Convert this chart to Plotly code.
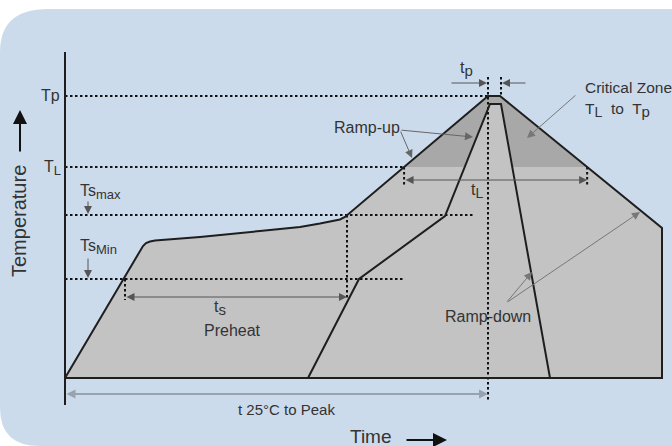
import numpy as np
import plotly.graph_objects as go

# ---------------- data (schematic units: time from start, temperature above 25 °C base) ----------
level_names = ["Tp", "TL", "Ts_max", "Ts_min"]
T_P = 282
T_L = 211
TS_MAX = 163
TS_MIN = 99

# outer (component body) reflow profile
outer_t = [0, 78, 81, 85, 90, 135, 195, 235, 255, 275, 280, 423, 435, 597, 597]
outer_T = [0, 132, 135, 136.5, 137.5, 141, 147, 151, 154.5, 158.5, 161, 282, 282, 150, 0]

# inner (fast) profile
inner_t = [243, 294, 380, 425, 436, 485]
inner_T = [0, 99, 162, 274, 274, 0]

# time markers
t_ts_start = 60      # profile crosses Ts_min
t_ts_end = 282       # end of preheat
t_peak = 423         # start of peak
t_peak_end = 436     # end of tp

FONT = "Liberation Sans, Arial, Helvetica, sans-serif"
TXT = "#333333"
BLUE = "#CCDBEC"
LIGHT = "#C3C3C3"
DARK = "#A8A8A8"
EDGE = "#1e1e1e"

W, H = 672, 446
X0, Y0 = 65, 378  # pixel position of data origin (figure layout only)

fig = go.Figure()

# ---- background rounded panel (paper coordinates) ----
def px(x):
    return x / W

def py(y):
    return 1 - y / H

bg_path = (f"M 0,{py(52)} Q 0,{py(9)} {px(48)},{py(9)} L 1,{py(9)} L 1,0 "
           f"L {px(40)},0 Q 0,0 0,{py(408)} Z")
shapes = [dict(type="path", xref="paper", yref="paper", path=bg_path,
               fillcolor=BLUE, line=dict(width=0), layer="below")]

# ---- fills ----
fig.add_trace(go.Scatter(x=outer_t, y=outer_T, mode="lines", fill="toself",
                         fillcolor=LIGHT, line=dict(width=0), hoverinfo="skip"))

# critical zone: part of outer profile above T_L
ot = np.array(outer_t, float)
oT = np.array(outer_T, float)
i_peak = int(np.argmax(oT))
rise_t, rise_T = ot[:i_peak + 1], oT[:i_peak + 1]
fall_t, fall_T = ot[i_peak + 1:], oT[i_peak + 1:]
tL_left = float(np.interp(T_L, rise_T, rise_t))
tL_right = float(np.interp(T_L, fall_T[::-1], fall_t[::-1]))
cz_t = [tL_left] + [t for t, T in zip(ot, oT) if T > T_L] + [tL_right]
cz_T = [T_L] + [T for T in oT if T > T_L] + [T_L]
fig.add_trace(go.Scatter(x=cz_t, y=cz_T, mode="lines", fill="toself",
                         fillcolor=DARK, line=dict(width=0), hoverinfo="skip"))

fig.add_trace(go.Scatter(x=inner_t, y=inner_T, mode="lines", fill="toself",
                         fillcolor=LIGHT, line=dict(width=0), hoverinfo="skip"))

# ---- dotted reference lines ----
DOT = "2.5px,2.5px"
dotted = [
    ([0, t_peak], [T_P, T_P]),
    ([0, tL_left], [T_L, T_L]),
    ([0, 408], [TS_MAX, TS_MAX]),
    ([0, 340], [TS_MIN, TS_MIN]),
    ([t_peak, t_peak], [301, -22]),
    ([t_peak_end, t_peak_end], [301, T_P]),
    ([t_ts_end, t_ts_end], [TS_MAX, 80]),
    ([t_ts_start, t_ts_start], [TS_MIN, 78]),
    ([tL_left, tL_left], [T_L, 193]),
    ([tL_right, tL_right], [T_L, 193]),
]
for xs, ys in dotted:
    fig.add_trace(go.Scatter(x=xs, y=ys, mode="lines",
                             line=dict(color="#111111", width=2, dash=DOT),
                             hoverinfo="skip"))

# ---- profile outlines ----
fig.add_trace(go.Scatter(x=outer_t + [0], y=outer_T + [0], mode="lines",
                         line=dict(color=EDGE, width=2), hoverinfo="skip"))
fig.add_trace(go.Scatter(x=inner_t, y=inner_T, mode="lines",
                         line=dict(color=EDGE, width=2), hoverinfo="skip"))
# temperature axis
fig.add_trace(go.Scatter(x=[0, 0], y=[-27, 326], mode="lines",
                         line=dict(color=EDGE, width=2), hoverinfo="skip"))

# ---- arrows ----
ann = []

def arrow(x0, y0, x1, y1, color="#555555", width=1, size=1.0, both=False, head=2):
    d = dict(x=x1, y=y1, ax=x0, ay=y0, xref="x", yref="y", axref="x", ayref="y",
             text="", showarrow=True, arrowhead=head, arrowsize=size,
             arrowwidth=width, arrowcolor=color, standoff=0, startstandoff=0)
    if both:
        d.update(arrowside="end+start", startarrowhead=head, startarrowsize=size)
    ann.append(d)

arrow(t_ts_start, 81, t_ts_end, 81, color="#555555", width=1, size=1.6, both=True)
arrow(tL_left, 198, tL_right, 198, color="#555555", width=1, size=1.6, both=True)
arrow(0, -16, t_peak, -16, color="#9aa3ad", width=2, size=0.9, both=True)
arrow(385, 295, t_peak - 1, 295, color="#555555", width=1, size=1.6)
arrow(462, 295, t_peak_end + 1, 295, color="#555555", width=1, size=1.6)
arrow(23, 178, 23, TS_MAX + 1, color="#555555", width=1, size=1.6)
arrow(23, 121, 23, TS_MIN + 1, color="#555555", width=1, size=1.6)
# Ramp-up callouts
arrow(335, 248, 408, 241, color="#666666", width=1, size=1.6)
arrow(335, 248, 347, 220, color="#666666", width=1, size=1.6)
# Critical zone callout
arrow(512, 284, 462, 240, color="#777777", width=1, size=1.6)
# Ramp-down callouts
arrow(441, 75, 467, 106, color="#777777", width=1, size=1.6)
arrow(441, 75, 575, 166, color="#777777", width=1, size=1.6)
# axis direction arrows
arrow(-45, 225, -45, 268, color="#111111", width=2, size=1.4)
arrow(340, -62, 382, -62, color="#111111", width=2, size=1.4)

# ---- labels ----
def label(x, y, text, size=16, xanchor="center", yanchor="middle", angle=0):
    ann.append(dict(x=x, y=y, xref="x", yref="y", text=text, showarrow=False,
                    xanchor=xanchor, yanchor=yanchor, textangle=angle,
                    font=dict(family=FONT, size=size, color=TXT)))

def sub(s, size=14):
    return f"<sub><span style='font-size:{size}px'>{s}</span></sub>"

label(-26, T_P + 1, "Tp", xanchor="left")
label(-23, T_L - 1, "T" + sub("L", 13), xanchor="left")
label(13, 186, "Ts" + sub("max", 13), xanchor="left")
label(13, 131, "Ts" + sub("Min", 13), xanchor="left")
label(393, 309, "t" + sub("p", 15), xanchor="left")
label(518, 291, "Critical Zone", size=15.5, xanchor="left")
label(518, 268, "T" + sub("L", 14) + "  to  T" + sub("p", 15), size=15.5, xanchor="left")
label(267, 251, "Ramp-up", xanchor="left")
label(412, 187, "t" + sub("L", 14))
label(155, 70, "t" + sub("s", 15))
label(167, 48, "Preheat")
label(423, 62, "Ramp-down")
label(221, -31, "t 25°C to Peak", size=15)
label(283, -58, "Time", size=19, xanchor="left")
label(-46, 157, "Temperature", size=20, angle=-90)

fig.update_layout(
    width=W, height=H, autosize=False,
    margin=dict(l=0, r=0, t=0, b=0),
    paper_bgcolor="white", plot_bgcolor="rgba(0,0,0,0)",
    showlegend=False,
    xaxis=dict(range=[-X0, W - X0], visible=False, fixedrange=True),
    yaxis=dict(range=[Y0 - H, Y0], visible=False, fixedrange=True),
    shapes=shapes, annotations=ann,
)

fig.write_html("out.html", config={"displayModeBar": False},
               post_script="document.body.style.margin='0';")
